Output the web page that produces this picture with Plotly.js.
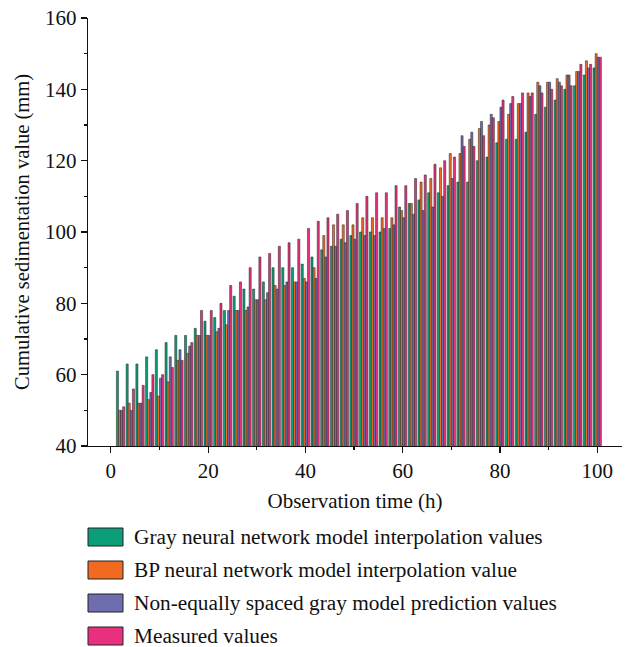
<!DOCTYPE html>
<html>
<head>
<meta charset="utf-8">
<script src="https://cdn.plot.ly/plotly-3.0.1.min.js"></script>
<style>html,body{margin:0;padding:0;background:#fff}#chart{width:626px;height:647px}</style>
</head>
<body>
<div id="chart"></div>
<script>
const time = [2,4,6,8,10,12,14,16,18,20,22,24,26,28,30,32,34,36,38,40,42,44,46,48,50,52,54,56,58,60,62,64,66,68,70,72,74,76,78,80,82,84,86,88,90,92,94,96,98,100];
const grayNN = [61,63,63,65,67,69,71,71,73,75,76,78,82,84,84,86,90,90,90,91,93,95,96,98,99,100,100,100,101,107,108,109,111,111,113,114,114,120,121,125,126,126,128,133,135,137,140,141,144,146];
const bpNN = [50,52,52,53,54,58,64,66,71,71,72,74,78,78,81,81,85,85,86,87,90,99,102,102,102,104,104,104,104,106,108,114,115,118,122,122,126,129,130,131,133,136,139,142,142,143,144,145,148,150];
const nonEqGray = [50,50,52,55,59,65,67,68,71,71,73,78,78,79,81,83,84,86,86,86,87,93,96,97,98,99,99,101,102,104,105,106,107,110,115,127,128,131,133,135,136,136,138,141,142,142,144,145,146,149];
const measured = [51,56,57,60,60,62,64,69,78,78,80,85,86,90,93,94,96,97,98,101,103,104,105,106,108,110,111,111,113,113,115,116,119,120,121,124,124,127,132,137,138,139,139,139,140,141,141,147,147,149];
const seriesNames = ["Gray neural network model interpolation values","BP neural network model interpolation value","Non-equally spaced gray model prediction values","Measured values"];
const seriesColors = ["#0b9e79","#f26a22","#6d6daf","#e8307f"];
const seriesData = [grayNN, bpNN, nonEqGray, measured];

const font = "Liberation Serif, DejaVu Serif, serif";
const traces = seriesData.map((d,i)=>({
  type:"bar", x:time, y:d, name:seriesNames[i], showlegend:false,
  marker:{color:seriesColors[i], line:{color:"#222", width:0.5}}
}));

const L=88, R=622, T=18, B=446;
const px = v => (v-L)/(R-L);
const py = v => (B-v)/(B-T);
const rows = [537,570,603,636];
const shapes = [], annotations = [];
seriesNames.forEach((n,i)=>{
  shapes.push({type:"rect", xref:"paper", yref:"paper", x0:px(88), x1:px(123), y0:py(rows[i]+9), y1:py(rows[i]-9),
    fillcolor:seriesColors[i], line:{color:"#222", width:1}});
  annotations.push({xref:"paper", yref:"paper", x:px(132), y:py(rows[i]), xanchor:"left", yanchor:"middle",
    text:n, showarrow:false, font:{family:font, size:21.3, color:"#111"}});
});

const layout = {
  width:626, height:647,
  margin:{l:L, r:626-R, t:T, b:647-B},
  paper_bgcolor:"#fff", plot_bgcolor:"#fff",
  barmode:"group", bargap:0.14, bargroupgap:0,
  font:{family:font, size:21, color:"#111"},
  xaxis:{range:[-4.7,105.1], tickvals:[0,20,40,60,80,100], ticks:"outside", ticklen:6, tickwidth:1.2, tickcolor:"#111",
    minor:{tickvals:[10,30,50,70,90], ticks:"outside", ticklen:3, tickcolor:"#111"},
    showgrid:false, zeroline:false, showline:true, linecolor:"#111", linewidth:1.2,
    title:{text:"Observation time (h)", font:{family:font, size:21}, standoff:10}, tickfont:{family:font, size:21}},
  yaxis:{range:[40,160], tickvals:[40,60,80,100,120,140,160], ticks:"outside", ticklen:6, tickwidth:1.2, tickcolor:"#111",
    minor:{tickvals:[50,70,90,110,130,150], ticks:"outside", ticklen:3, tickcolor:"#111"},
    showgrid:false, zeroline:false, showline:true, linecolor:"#111", linewidth:1.2,
    title:{text:"Cumulative sedimentation value (mm)", font:{family:font, size:20.5}, standoff:10}, tickfont:{family:font, size:21}},
  shapes:shapes, annotations:annotations, showlegend:false
};
Plotly.newPlot("chart", traces, layout, {displayModeBar:false, staticPlot:true});
</script>
</body>
</html>
